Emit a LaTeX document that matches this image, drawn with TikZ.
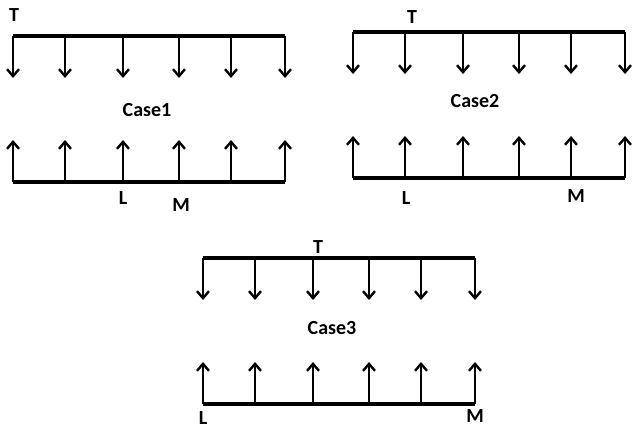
\documentclass[tikz,border=0pt]{standalone}
\usepackage{fontspec}
\setmainfont{Carlito}
\usetikzlibrary{arrows.meta}
\tikzset{
  bar/.style={line width=3.2pt},
  load/.style={-{Straight Barb[length=7pt,width=12pt,line width=2.4pt]}, line width=2.4pt},
  lbl/.style={font=\fontsize{20}{24}\selectfont\bfseries, inner sep=0.5pt},
}
\begin{document}
\begin{tikzpicture}[x=1pt, y=-1pt]
\useasboundingbox (0,0) rectangle (632,430);
% the three cases: number / left end / top bar height
\foreach \c/\ox/\oy in {1/13/36, 2/353/32, 3/203/258} {
  \begin{scope}[shift={(\ox,\oy)}]
  \coordinate (top\c) at (0,0);
  \coordinate (topend\c) at (272,0);
  \coordinate (bot\c) at (0,146);
  \coordinate (botend\c) at (272,146);
  \draw[bar] (top\c) -- (topend\c);
  \draw[bar] (bot\c) -- (botend\c);
  \foreach \i/\x in {1/0, 2/52, 3/110, 4/166, 5/218, 6/272} {
    \coordinate (t\c\i) at (\x,0);
    \coordinate (d\c\i) at (\x,42);
    \coordinate (b\c\i) at (\x,146);
    \coordinate (u\c\i) at (\x,104);
    \draw[load] (t\c\i) -- (d\c\i);
    \draw[load] (b\c\i) -- (u\c\i);
  }
  \end{scope}
}
% labels
\node[lbl] (T1) at (14,15) {T};
\node[lbl] (case1) at (147,110) {Case1};
\node[lbl] (L1) at (123,198) {L};
\node[lbl] (M1) at (181,205) {M};
\node[lbl] (T2) at (412,17) {T};
\node[lbl] (case2) at (475,101) {Case2};
\node[lbl] (L2) at (406,198) {L};
\node[lbl] (M2) at (576,196) {M};
\node[lbl] (T3) at (318,247) {T};
\node[lbl] (case3) at (332,328) {Case3};
\node[lbl] (L3) at (203,418) {L};
\node[lbl] (M3) at (475,416) {M};
\end{tikzpicture}
\end{document}
